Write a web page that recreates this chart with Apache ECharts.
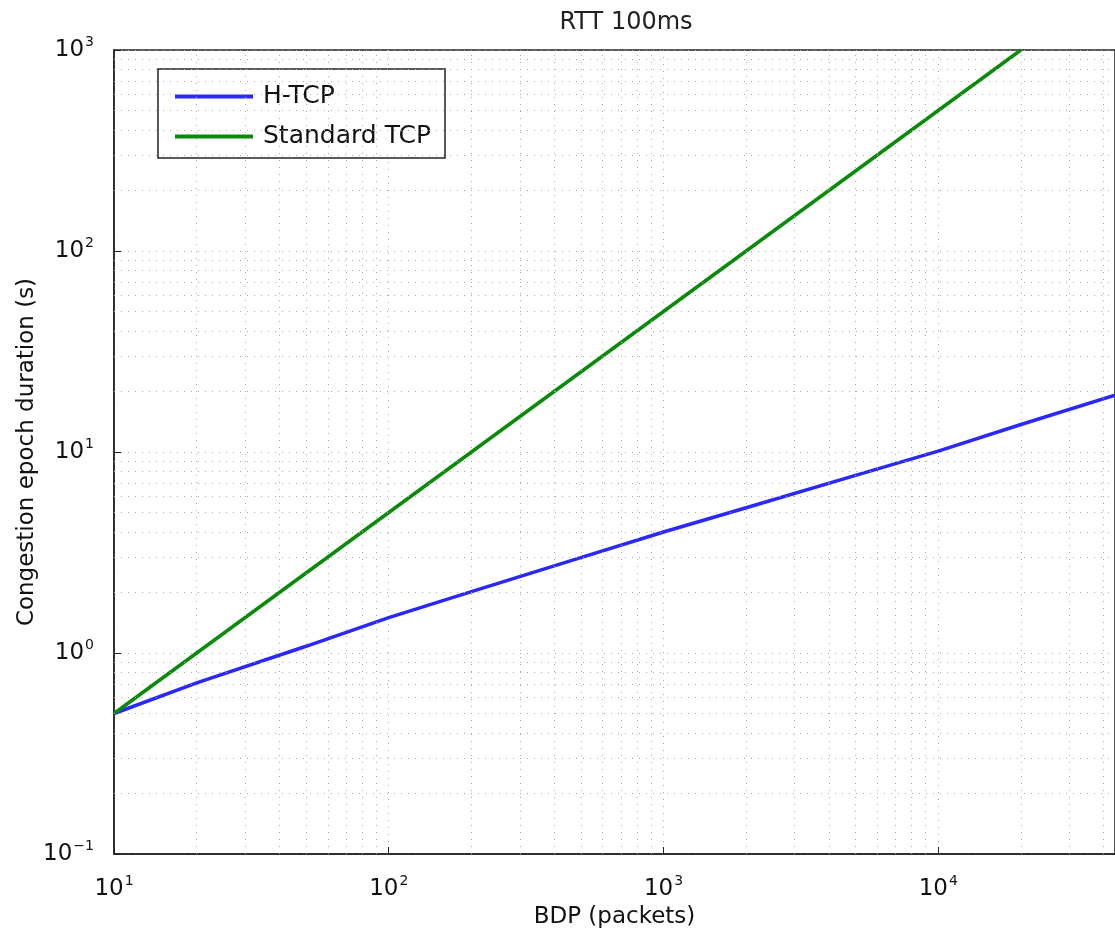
<!DOCTYPE html>
<html>
<head>
<meta charset="utf-8">
<title>RTT 100ms</title>
<script src="https://cdn.jsdelivr.net/npm/echarts@6/dist/echarts.min.js"></script>
<style>
  html, body { margin: 0; padding: 0; background: #fff; }
  #chart { width: 1115px; height: 935px; }
</style>
</head>
<body>
<div id="chart"></div>
<script>
// values (BDP in packets, epoch duration in seconds)
var htcpBdp = [10, 20, 50, 100, 200, 500, 1000, 2000, 5000, 10000, 20000, 44000];
var htcpDur = [0.5, 0.71, 1.08, 1.5, 2.02, 2.98, 4.0, 5.28, 7.65, 10.1, 13.7, 19.2];

var stdBdp = [10, 100, 1000, 10000, 20000];
var stdDur = [0.5, 5, 50, 500, 1000];

var seriesNames = ['H-TCP', 'Standard TCP'];

var font = '"DejaVu Sans", "Liberation Sans", sans-serif';

function pairs(xs, ys) {
  var out = [];
  for (var i = 0; i < xs.length; i++) out.push([xs[i], ys[i]]);
  return out;
}

// minor grid positions 2..9 x 10^d
function minorLines(axis, lo, hi, maxv) {
  var out = [];
  for (var d = lo; d <= hi; d++) {
    for (var k = 2; k <= 9; k++) {
      var v = k * Math.pow(10, d);
      if (v >= maxv) continue;
      var o = {};
      o[axis] = v;
      out.push(o);
    }
  }
  return out;
}

function powLabel(value) {
  var e = Math.log10(value);
  var r = Math.round(e);
  if (Math.abs(e - r) > 1e-6) return '';
  return '{b|10}{s|' + (r < 0 ? '\u2212' + (-r) : r) + '}';
}

var labelRich = {
  b: { fontSize: 23, fontFamily: font, color: '#111' },
  s: { fontSize: 14, fontFamily: font, color: '#111', padding: [0, 0, 16, 1] }
};

var gridDots = { color: '#aaa', width: 1, type: [1, 6] };

var chart = echarts.init(document.getElementById('chart'));

var option = {
  animation: false,
  backgroundColor: '#fff',
  title: {
    text: 'RTT 100ms',
    left: 621,
    textAlign: 'center',
    top: 6,
    textStyle: { fontSize: 24, fontWeight: 'normal', fontFamily: font, color: '#222' }
  },
  legend: {
    data: seriesNames,
    orient: 'vertical',
    left: 158,
    top: 69,
    padding: [15, 14, 9, 17],
    icon: 'rect',
    itemWidth: 78,
    itemHeight: 4,
    itemGap: 15,
    borderColor: '#222',
    borderWidth: 1.5,
    borderRadius: 0,
    backgroundColor: '#fff',
    textStyle: { fontSize: 25, fontFamily: font, color: '#111', padding: [0, 0, 0, 5] }
  },
  grid: {
    left: 114,
    right: 0,
    top: 50,
    bottom: 81,
    show: true,
    borderColor: '#222',
    borderWidth: 1.5,
    containLabel: false
  },
  xAxis: {
    type: 'log',
    logBase: 10,
    min: 10,
    max: 44000,
    name: 'BDP (packets)',
    nameLocation: 'middle',
    nameGap: 49,
    nameTextStyle: { fontSize: 23, fontFamily: font, color: '#111' },
    axisLine: { lineStyle: { color: '#222', width: 1.5 } },
    axisTick: { inside: true, length: 7, lineStyle: { color: '#222' } },
    axisLabel: { formatter: powLabel, rich: labelRich, margin: 20, showMaxLabel: false },
    splitLine: { show: true, lineStyle: gridDots }
  },
  yAxis: {
    type: 'log',
    logBase: 10,
    min: 0.1,
    max: 1000,
    name: 'Congestion epoch duration (s)',
    nameLocation: 'middle',
    nameGap: 75,
    nameMoveOverlap: false,
    nameTextStyle: { fontSize: 23, fontFamily: font, color: '#111' },
    axisLine: { lineStyle: { color: '#222', width: 1.5 } },
    axisTick: { inside: true, length: 7, lineStyle: { color: '#222' } },
    axisLabel: { formatter: powLabel, rich: labelRich, margin: 20 },
    splitLine: { show: true, lineStyle: gridDots }
  },
  series: [
    {
      name: 'grid',
      type: 'line',
      data: [],
      silent: true,
      markLine: {
        silent: true,
        symbol: ['none', 'none'],
        label: { show: false },
        lineStyle: gridDots,
        animation: false,
        data: minorLines('xAxis', 1, 4, 44000).concat(minorLines('yAxis', -1, 2, 1000))
      }
    },
    {
      name: seriesNames[0],
      type: 'line',
      data: pairs(htcpBdp, htcpDur),
      showSymbol: false,
      symbol: 'none',
      lineStyle: { color: '#2828ff', width: 3.5 },
      itemStyle: { color: '#2828ff' }
    },
    {
      name: seriesNames[1],
      type: 'line',
      data: pairs(stdBdp, stdDur),
      showSymbol: false,
      symbol: 'none',
      lineStyle: { color: '#0a8a0a', width: 3.5 },
      itemStyle: { color: '#0a8a0a' }
    }
  ]
};

chart.setOption(option);
</script>
</body>
</html>
